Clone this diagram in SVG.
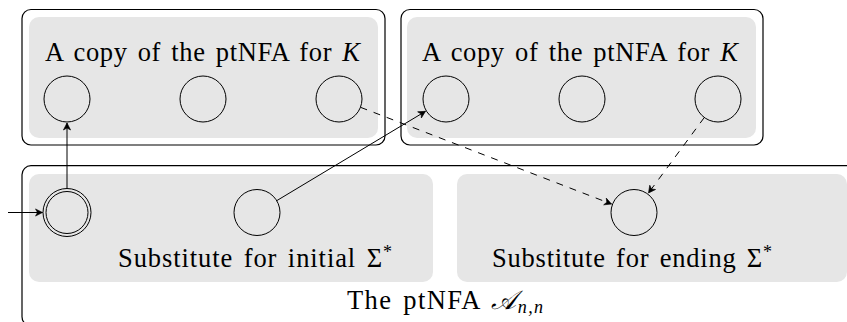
<svg xmlns="http://www.w3.org/2000/svg" width="847" height="322" viewBox="0 0 847 322">
<style>
.frame{fill:none;stroke:#000;stroke-width:1.2}
.grey{fill:#e6e6e6;stroke:none}
.st{fill:none;stroke:#000;stroke-width:1}
.lbl{font-family:"Liberation Serif","Times New Roman",serif;font-size:26.5px;word-spacing:3px;fill:#000}
.it{font-style:italic}
.edge{fill:none;stroke:#000;stroke-width:1}
.dash{stroke-dasharray:7 7}
</style>
<defs>
<marker id="arr" viewBox="-8 -5 10 10" refX="0" refY="0" markerWidth="10" markerHeight="10" markerUnits="userSpaceOnUse" orient="auto">
<path d="M0,0 L-7,-3.6 L-5,0 L-7,3.6 Z" fill="#000" stroke="#000" stroke-width="0.6" stroke-linejoin="round"/>
</marker>
</defs>

<g id="copy1">
<rect class="frame" x="22" y="9.5" width="363" height="135.5" rx="9"/>
<rect class="grey" x="29" y="17" width="349" height="121" rx="10"/>
<text class="lbl" x="45" y="61" textLength="315" lengthAdjust="spacing">A copy of the ptNFA for <tspan class="it">K</tspan></text>
<circle id="c1a" class="st" cx="67" cy="99" r="23"/>
<circle id="c1b" class="st" cx="203" cy="99" r="23"/>
<circle id="c1c" class="st" cx="339" cy="99" r="23"/>
</g>

<g id="copy2">
<rect class="frame" x="401" y="9.5" width="362" height="135.5" rx="9"/>
<rect class="grey" x="407" y="17" width="349" height="121" rx="10"/>
<text class="lbl" x="422" y="61" textLength="316" lengthAdjust="spacing">A copy of the ptNFA for <tspan class="it">K</tspan></text>
<circle id="c2a" class="st" cx="446" cy="99" r="23"/>
<circle id="c2b" class="st" cx="582" cy="99" r="23"/>
<circle id="c2c" class="st" cx="718" cy="99" r="23"/>
</g>

<g id="automaton">
<rect class="frame" x="22" y="165.7" width="900" height="160" rx="9"/>
<text class="lbl" x="347" y="309" textLength="196" lengthAdjust="spacing">The ptNFA <tspan class="it">𝒜</tspan><tspan class="it" font-size="18" dy="4">n,n</tspan></text>
</g>

<g id="initial">
<rect class="grey" x="29" y="174" width="404" height="108" rx="10"/>
<circle class="st" cx="67" cy="212.5" r="24"/>
<circle class="st" cx="67" cy="212.5" r="21"/>
<circle class="st" cx="257" cy="212.5" r="23"/>
<text class="lbl" x="118" y="267" textLength="274" lengthAdjust="spacing">Substitute for initial Σ<tspan font-size="18" dy="-9">*</tspan></text>
</g>

<g id="ending">
<rect class="grey" x="457" y="174" width="390" height="108" rx="10"/>
<circle class="st" cx="634" cy="212.5" r="23"/>
<text class="lbl" x="492" y="267" textLength="280" lengthAdjust="spacing">Substitute for ending Σ<tspan font-size="18" dy="-9">*</tspan></text>
</g>

<g id="connectors">
<line class="edge" x1="8" y1="212.5" x2="42.5" y2="212.5" marker-end="url(#arr)"/>
<line class="edge" x1="67" y1="188.5" x2="67" y2="123" marker-end="url(#arr)"/>
<line class="edge" x1="276.7" y1="200.7" x2="425.5" y2="111.3" marker-end="url(#arr)"/>
<line class="edge dash" x1="360.5" y1="107.3" x2="611.5" y2="204" marker-end="url(#arr)"/>
<line class="edge dash" x1="704.3" y1="117.5" x2="648.5" y2="193" marker-end="url(#arr)"/>
</g>
</svg>
